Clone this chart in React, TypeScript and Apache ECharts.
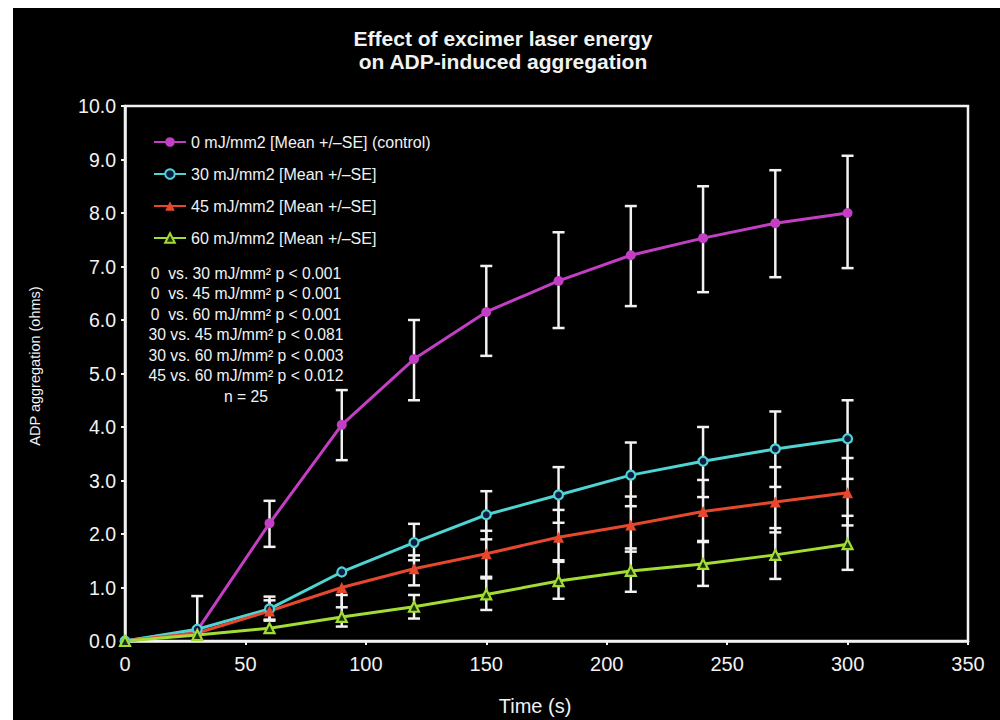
import React, { useEffect, useRef } from "react";
import * as echarts from "echarts";

const timeS = [0, 30, 60, 90, 120, 150, 180, 210, 240, 270, 300];

const controlMean = [0, 0.2, 2.2, 4.04, 5.27, 6.15, 6.73, 7.21, 7.53, 7.81, 8.0];
const controlLow = [0, 0.2, 1.76, 3.38, 4.5, 5.33, 5.85, 6.26, 6.52, 6.8, 6.97];
const controlHigh = [0, 0.84, 2.62, 4.69, 6.0, 7.01, 7.64, 8.13, 8.5, 8.8, 9.07];

const e30Mean = [0, 0.22, 0.6, 1.29, 1.84, 2.36, 2.73, 3.1, 3.36, 3.59, 3.78];
const e30Low = [0, 0.22, 0.38, 1.29, 1.51, 1.9, 2.21, 2.52, 2.69, 2.88, 3.03];
const e30High = [0, 0.22, 0.83, 1.29, 2.19, 2.8, 3.25, 3.71, 4.0, 4.29, 4.5];

const e45Mean = [0, 0.15, 0.56, 1.0, 1.35, 1.63, 1.94, 2.17, 2.42, 2.6, 2.77];
const e45Low = [0, 0.15, 0.4, 0.63, 1.04, 1.2, 1.48, 1.67, 1.85, 2.03, 2.16];
const e45High = [0, 0.15, 0.76, 1.0, 1.6, 2.06, 2.45, 2.7, 3.01, 3.25, 3.42];

const e60Mean = [0, 0.11, 0.24, 0.45, 0.64, 0.87, 1.12, 1.31, 1.44, 1.61, 1.81];
const e60Low = [0, 0.11, 0.24, 0.27, 0.42, 0.58, 0.79, 0.92, 1.03, 1.16, 1.33];
const e60High = [0, 0.11, 0.24, 0.86, 0.86, 1.17, 1.51, 1.73, 1.87, 2.11, 2.34];

const seriesNames = [
  "0 mJ/mm2 [Mean +/\u2013SE] (control)",
  "30 mJ/mm2 [Mean +/\u2013SE]",
  "45 mJ/mm2 [Mean +/\u2013SE]",
  "60 mJ/mm2 [Mean +/\u2013SE]",
];

const statLines = [
  "0  vs. 30 mJ/mm\u00b2 p < 0.001",
  "0  vs. 45 mJ/mm\u00b2 p < 0.001",
  "0  vs. 60 mJ/mm\u00b2 p < 0.001",
  "30 vs. 45 mJ/mm\u00b2 p < 0.081",
  "30 vs. 60 mJ/mm\u00b2 p < 0.003",
  "45 vs. 60 mJ/mm\u00b2 p < 0.012",
  "n = 25",
];

const titleLines = ["Effect of excimer laser energy", "on ADP-induced aggregation"];

const FONT = "'Liberation Sans', Arial, Helvetica, sans-serif";

export default function App() {
  const ref = useRef<HTMLDivElement>(null);

  useEffect(() => {
    if (!ref.current) return;
    const chart = echarts.init(ref.current, null, { renderer: "svg" });

    const pairs = (ys: number[]) => timeS.map((t, i) => [t, ys[i]]);
    const errData: number[][] = [];
    const groups = [
      [controlMean, controlLow, controlHigh],
      [e30Mean, e30Low, e30High],
      [e45Mean, e45Low, e45High],
      [e60Mean, e60Low, e60High],
    ];
    groups.forEach(([m, lo, hi]) => {
      timeS.forEach((t, i) => errData.push([t, lo[i], hi[i], m[i]]));
    });

    const white = "#f2f2f2";

    const option: any = {
      animation: false,
      backgroundColor: "#000",
      textStyle: { fontFamily: FONT },
      grid: {
        left: 112,
        right: 32,
        top: 98,
        bottom: 79,
        show: true,
        borderColor: white,
        borderWidth: 2.5,
        backgroundColor: "transparent",
      },
      legend: {
        orient: "vertical",
        left: 135,
        top: 121,
        itemWidth: 32,
        itemHeight: 12,
        itemGap: 16,
        selectedMode: false,
        textStyle: { color: white, fontSize: 16, fontFamily: FONT },
        data: seriesNames,
      },
      xAxis: {
        type: "value",
        min: 0,
        max: 350,
        interval: 50,
        axisLine: { show: true, lineStyle: { color: white, width: 2.5 } },
        axisTick: { show: true, length: 4, lineStyle: { color: white, width: 2 } },
        axisLabel: { color: white, fontSize: 20, margin: 13, fontFamily: FONT },
        splitLine: { show: false },
      },
      yAxis: {
        type: "value",
        min: 0,
        max: 10,
        interval: 1,
        axisLine: { show: true, lineStyle: { color: white, width: 2.5 } },
        axisTick: { show: true, length: 4, lineStyle: { color: white, width: 2 } },
        axisLabel: {
          color: white,
          fontSize: 19.5,
          margin: 9,
          fontFamily: FONT,
          formatter: (v: number) => v.toFixed(1),
        },
        splitLine: { show: false },
      },
      graphic: [
        {
          type: "text",
          x: 490,
          y: 19,
          style: {
            text: titleLines.join("\n"),
            fill: white,
            font: `bold 21px ${FONT}`,
            lineHeight: 23,
            align: "center",
            verticalAlign: "top",
          },
        },
        {
          type: "text",
          x: 233,
          y: 255,
          style: {
            text: statLines.join("\n"),
            fill: white,
            font: `15.7px ${FONT}`,
            lineHeight: 20.5,
            align: "center",
            verticalAlign: "top",
          },
        },
        {
          type: "text",
          x: 522,
          y: 698,
          style: {
            text: "Time (s)",
            fill: white,
            font: `20px ${FONT}`,
            align: "center",
            verticalAlign: "middle",
          },
        },
        {
          type: "text",
          x: 22,
          y: 358,
          rotation: Math.PI / 2,
          style: {
            text: "ADP aggregation (ohms)",
            fill: white,
            font: `14.5px ${FONT}`,
            align: "center",
            verticalAlign: "middle",
          },
        },
      ],
      series: [
        {
          type: "custom",
          name: "err",
          z: 1,
          silent: true,
          data: errData,
          encode: { x: 0, y: [1, 2] },
          renderItem: (params: any, api: any) => {
            const x = api.value(0);
            const lo = api.value(1);
            const hi = api.value(2);
            const m = api.value(3);
            if (lo === hi) return { type: "group", children: [] };
            const p1 = api.coord([x, lo]);
            const p2 = api.coord([x, hi]);
            const w = 6;
            const style = { stroke: white, lineWidth: 2.5 };
            const children: any[] = [
              { type: "line", shape: { x1: p1[0], y1: p1[1], x2: p2[0], y2: p2[1] }, style },
            ];
            if (lo !== m)
              children.push({
                type: "line",
                shape: { x1: p1[0] - w, y1: p1[1], x2: p1[0] + w, y2: p1[1] },
                style,
              });
            if (hi !== m)
              children.push({
                type: "line",
                shape: { x1: p2[0] - w, y1: p2[1], x2: p2[0] + w, y2: p2[1] },
                style,
              });
            return { type: "group", children };
          },
        },
        {
          type: "line",
          name: seriesNames[0],
          z: 3,
          data: pairs(controlMean),
          symbol: "circle",
          symbolSize: 10,
          lineStyle: { color: "#c23fc4", width: 3 },
          itemStyle: { color: "#c23fc4" },
        },
        {
          type: "line",
          name: seriesNames[1],
          z: 3,
          data: pairs(e30Mean),
          symbol: "circle",
          symbolSize: 9,
          lineStyle: { color: "#4fd3d3", width: 3 },
          itemStyle: { color: "#101a40", borderColor: "#4fd3d3", borderWidth: 2.2 },
        },
        {
          type: "line",
          name: seriesNames[2],
          z: 3,
          data: pairs(e45Mean),
          symbol: "triangle",
          symbolSize: 11,
          lineStyle: { color: "#e5482c", width: 3 },
          itemStyle: { color: "#e5482c" },
        },
        {
          type: "line",
          name: seriesNames[3],
          z: 3,
          data: pairs(e60Mean),
          symbol: "triangle",
          symbolSize: 10,
          lineStyle: { color: "#a2dc34", width: 3 },
          itemStyle: { color: "#1d3010", borderColor: "#a2dc34", borderWidth: 2.2 },
        },
      ],
    };

    chart.setOption(option);
    return () => chart.dispose();
  }, []);

  return (
    <div
      ref={ref}
      style={{
        position: "fixed",
        left: 13,
        top: 8,
        width: 987,
        height: 712,
        background: "#000",
      }}
    />
  );
}
